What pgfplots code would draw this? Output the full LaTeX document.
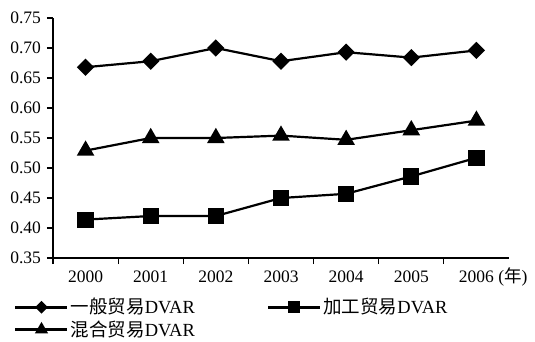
\documentclass[border=0pt]{standalone}
\usepackage{fontspec}
\setmainfont{Liberation Serif}
\newfontfamily\cjk{Noto Sans CJK SC}
\usepackage{pgfplots}
\pgfplotsset{compat=1.18}
\begin{document}
\fontsize{17.5}{21}\selectfont
\begin{tikzpicture}
\useasboundingbox (-53pt,-83pt) rectangle (482pt,258pt);
\begin{axis}[
  at={(0,0)}, anchor=south west,
  scale only axis, width=456pt, height=240pt,
  xmin=-0.5, xmax=6.5, ymin=0.35, ymax=0.75,
  axis x line*=bottom, axis y line*=left,
  axis line style={line width=1.1pt, -},
  tick align=outside,
  xtick={0,...,6},
  xticklabels={2000,2001,2002,2003,2004,2005,2006\rlap{ ({\cjk 年})}},
  xticklabel style={text height=12pt, text depth=3pt},
  major x tick style={draw=none},
  minor xtick={-0.5,0.5,1.5,2.5,3.5,4.5,5.5},
  minor tick length=6pt,
  ytick={0.35,0.40,...,0.76},
  major tick length=6pt,
  tick style={line width=1.1pt, black},
  yticklabel style={/pgf/number format/.cd, fixed, fixed zerofill, precision=2},
  /pgf/number format/assume math mode=true,
  ticklabel style={font=\fontsize{17.5}{21}\selectfont},
  legend columns=2,
  legend style={draw=none, fill=none, at={(axis description cs:0,0)}, anchor=north west,
    xshift=-42pt, yshift=-36pt, font=\fontsize{18.5}{22}\selectfont,
    /tikz/every even column/.append style={column sep=70pt},
    /tikz/every row/.append style={row sep=3pt}},
  legend cell align=left,
  legend image code/.code={%
    \draw[#1, line width=2.6pt] (0pt,0pt) -- (52pt,0pt);
    \draw[#1, every mark/.append style={scale=0.68}] plot coordinates {(26pt,0pt)};},
]
% general trade
\addplot[black, line width=2.2pt, mark=square*, mark size=5pt, mark options={rotate=45, solid}] coordinates {
  (0,0.668) (1,0.678) (2,0.700) (3,0.678) (4,0.693) (5,0.684) (6,0.696)};
\addlegendentry{{\cjk 一般贸易}DVAR}
% processing trade
\addplot[black, line width=2.2pt, mark=square*, mark size=7pt, mark options={solid}] coordinates {
  (0,0.414) (1,0.420) (2,0.420) (3,0.450) (4,0.457) (5,0.486) (6,0.517)};
\addlegendentry{{\cjk 加工贸易}DVAR}
% mixed trade
\addplot[black, line width=2.2pt, mark=triangle*, mark size=8pt, mark options={solid}] coordinates {
  (0,0.529) (1,0.550) (2,0.550) (3,0.554) (4,0.547) (5,0.563) (6,0.579)};
\addlegendentry{{\cjk 混合贸易}DVAR}
\end{axis}
\end{tikzpicture}
\end{document}
